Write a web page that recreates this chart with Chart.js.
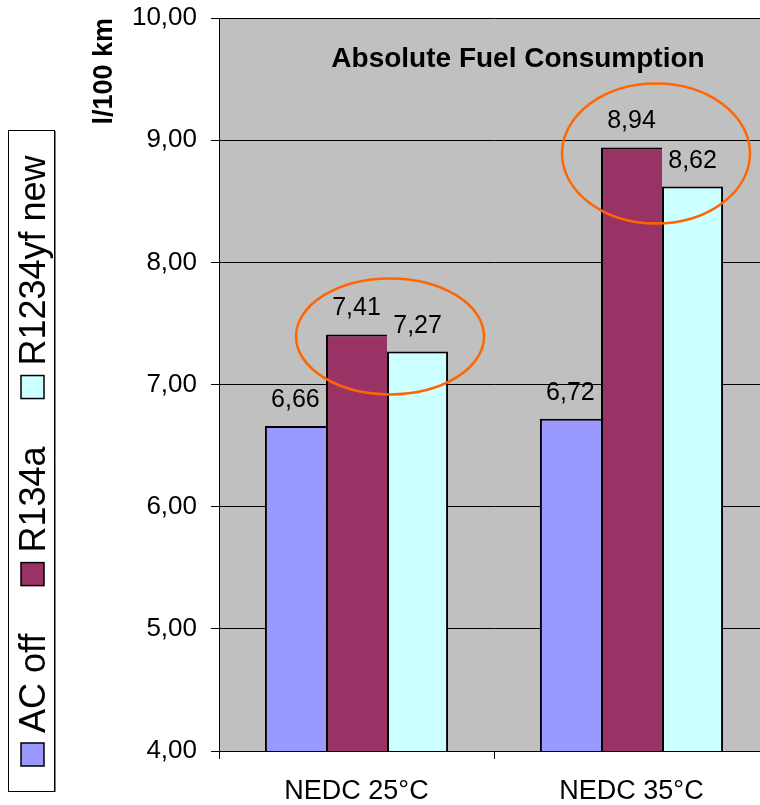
<!DOCTYPE html>
<html lang="en">
<head>
    <meta charset="UTF-8">
    <title>Absolute Fuel Consumption</title>
    <style>
        body {
            margin: 0;
            background: #fff;
            overflow: hidden;
        }
        .wrap {
            width: 760px;
            height: 805px;
            overflow: hidden;
        }
        canvas { display: block; }
    </style>
    <script src="https://cdn.jsdelivr.net/npm/chart.js"></script>
</head>
<body>
    <div class="wrap">
        <canvas id="fuelChart" width="769" height="805"></canvas>
    </div>

    <script>
        // Chart values
        const categories = ['NEDC 25°C', 'NEDC 35°C'];
        const seriesNames = ['AC off', 'R134a', 'R1234yf new'];
        const acOff = [6.66, 6.72];
        const r134a = [7.41, 8.94];
        const r1234yf = [7.27, 8.62];
        const yTicks = [4, 5, 6, 7, 8, 9, 10];

        const FONT = '"Liberation Sans", Arial, sans-serif';
        const fmt = v => v.toFixed(2).replace('.', ',');

        // gray plot background
        const plotBackground = {
            id: 'plotBackground',
            beforeDraw(chart) {
                const { ctx, chartArea: a } = chart;
                ctx.save();
                ctx.fillStyle = '#fff';
                ctx.fillRect(0, 0, chart.width, chart.height);
                ctx.fillStyle = '#C0C0C0';
                ctx.fillRect(a.left, a.top, a.right - a.left, a.bottom - a.top);
                ctx.restore();
            }
        };

        // value labels, title in the plot and the circled pairs
        const overlay = {
            id: 'overlay',
            afterDatasetsDraw(chart) {
                const { ctx, chartArea: a } = chart;
                ctx.save();
                ctx.fillStyle = '#000';
                ctx.font = '25px ' + FONT;
                ctx.textAlign = 'center';
                ctx.textBaseline = 'alphabetic';
                chart.data.datasets.forEach((ds, i) => {
                    chart.getDatasetMeta(i).data.forEach((bar, j) => {
                        ctx.fillText(fmt(ds.data[j]), bar.x, bar.y - 19);
                    });
                });

                ctx.font = 'bold 28px ' + FONT;
                ctx.fillText('Absolute Fuel Consumption', (a.left + a.right) / 2 + 24, a.top + 49);

                // ellipses around the two refrigerant bars of each cycle
                const rings = [
                    { idx: 0, dx: 3, dy: 2, rx: 94, ry: 58 },
                    { idx: 1, dx: -6, dy: 6, rx: 94, ry: 70 }
                ];
                const m1 = chart.getDatasetMeta(1).data;
                const m2 = chart.getDatasetMeta(2).data;
                ctx.strokeStyle = '#FF6600';
                ctx.lineWidth = 2.5;
                rings.forEach(r => {
                    const cx = (m1[r.idx].x + m2[r.idx].x) / 2 + r.dx;
                    const cy = m1[r.idx].y + r.dy;
                    ctx.beginPath();
                    ctx.ellipse(cx, cy, r.rx, r.ry, 0, 0, Math.PI * 2);
                    ctx.stroke();
                });
                ctx.restore();
            }
        };

        // vertical legend in a box on the left
        const sideLegend = {
            id: 'sideLegend',
            afterDraw(chart) {
                const ctx = chart.ctx;
                const box = { x: 8, y: 130, w: 46, h: 661 };
                ctx.save();
                ctx.strokeStyle = '#000';
                ctx.lineWidth = 1;
                ctx.strokeRect(box.x + 0.5, box.y + 0.5, box.w, box.h);
                ctx.strokeStyle = '#808080';
                ctx.beginPath();
                ctx.moveTo(box.x + box.w + 1.5, box.y + 1);
                ctx.lineTo(box.x + box.w + 1.5, box.y + box.h + 1);
                ctx.stroke();

                ctx.rotate(-Math.PI / 2);
                ctx.font = '36px ' + FONT;
                ctx.textBaseline = 'alphabetic';
                ctx.textAlign = 'left';
                // in rotated space, x runs upward (negative of page y)
                let pos = box.y + box.h - 25;
                chart.data.datasets.forEach(ds => {
                    const sw = 23;
                    ctx.fillStyle = ds.backgroundColor;
                    ctx.fillRect(-pos, 21, sw, sw);
                    ctx.strokeStyle = '#000';
                    ctx.lineWidth = 1.5;
                    ctx.strokeRect(-pos, 21, sw, sw);
                    ctx.fillStyle = '#000';
                    ctx.fillText(ds.label, -pos + sw + 10, 45);
                    pos -= sw + 10 + ctx.measureText(ds.label).width + 48;
                });
                ctx.restore();
            }
        };

        const edge = { top: 2, left: 2, right: 0, bottom: 0 };
        const lastEdge = { top: 2, left: 2, right: 2, bottom: 0 };

        const chart = new Chart(document.getElementById('fuelChart').getContext('2d'), {
            type: 'bar',
            data: {
                labels: categories,
                datasets: [
                    { label: seriesNames[0], data: acOff, backgroundColor: '#9999FF', borderColor: '#000', borderWidth: edge },
                    { label: seriesNames[1], data: r134a, backgroundColor: '#993366', borderColor: '#000', borderWidth: edge },
                    { label: seriesNames[2], data: r1234yf, backgroundColor: '#CCFFFF', borderColor: '#000', borderWidth: lastEdge }
                ]
            },
            options: {
                responsive: false,
                animation: false,
                devicePixelRatio: 1,
                categoryPercentage: 0.666,
                barPercentage: 1.0,
                layout: { padding: { top: 18, left: 88, right: 0, bottom: 0 } },
                plugins: {
                    legend: { display: false },
                    tooltip: { enabled: false },
                    title: { display: false }
                },
                scales: {
                    x: {
                        afterFit: s => { s.height = 54; s.paddingLeft = 0; s.paddingRight = 0; },
                        grid: {
                            offset: true,
                            drawOnChartArea: false,
                            drawTicks: true,
                            tickLength: 8,
                            tickColor: '#000'
                        },
                        border: { display: true, color: '#000', width: 1 },
                        ticks: {
                            color: '#000',
                            padding: 16,
                            font: { family: FONT, size: 27 }
                        }
                    },
                    y: {
                        min: yTicks[0],
                        max: yTicks[yTicks.length - 1],
                        afterFit: s => { s.width = 131; s.paddingTop = 0; s.paddingBottom = 0; },
                        afterBuildTicks: s => { s.ticks = yTicks.map(v => ({ value: v })); },
                        grid: {
                            color: '#000',
                            lineWidth: 1,
                            drawTicks: true,
                            tickLength: 8,
                            tickColor: '#000'
                        },
                        border: { display: true, color: '#000', width: 1 },
                        ticks: {
                            color: '#000',
                            padding: 14,
                            font: { family: FONT, size: 26 },
                            callback: v => fmt(v)
                        },
                        title: {
                            display: true,
                            text: 'l/100 km',
                            align: 'end',
                            color: '#000',
                            padding: { top: 0, bottom: 0 },
                            font: { family: FONT, size: 27, weight: 'bold' }
                        }
                    }
                }
            },
            plugins: [plotBackground, overlay, sideLegend]
        });
    </script>
</body>
</html>
